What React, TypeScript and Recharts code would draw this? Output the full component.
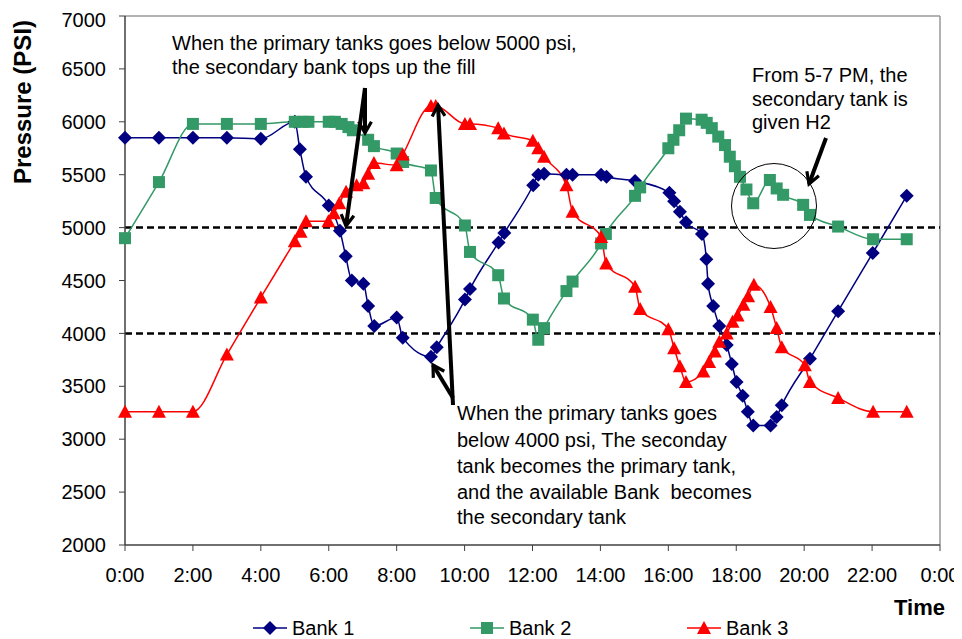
import React from "react";
import {
  LineChart,
  Line,
  XAxis,
  YAxis,
  ReferenceLine,
  Legend,
} from "recharts";

const FONT = '"Liberation Sans", Arial, sans-serif';

// hour of day (decimal) and tank pressure in psi, one pair of lists per bank
const bank1Hours = [0, 1, 2, 3, 4, 5, 5.15, 5.33, 6, 6.33, 6.5, 6.68, 7.02, 7.16, 7.34, 8, 8.18, 9.01, 9.18, 10.01, 10.16, 11, 11.17, 12.02, 12.17, 12.34, 13, 13.18, 14.02, 14.18, 15.02, 16.03, 16.17, 16.34, 16.52, 16.99, 17.12, 17.17, 17.32, 17.5, 17.72, 17.87, 18.01, 18.19, 18.34, 18.5, 19.01, 19.19, 19.34, 20.17, 21, 22.02, 23.02];
const bank1Psi = [5850, 5850, 5850, 5850, 5840, 6000, 5740, 5480, 5210, 4970, 4730, 4500, 4470, 4260, 4070, 4150, 3960, 3780, 3870, 4320, 4420, 4860, 4950, 5400, 5500, 5510, 5500, 5500, 5500, 5480, 5440, 5330, 5250, 5150, 5050, 4940, 4700, 4470, 4260, 4070, 3890, 3710, 3540, 3410, 3260, 3130, 3130, 3210, 3320, 3760, 4210, 4760, 5300];

const bank2Hours = [0, 1, 2, 3, 4, 5, 5.25, 5.4, 6, 6.18, 6.38, 6.58, 6.71, 7.16, 7.33, 8, 8.19, 9.01, 9.15, 10.01, 10.16, 10.99, 11.16, 12.01, 12.17, 12.34, 13, 13.18, 14.02, 14.16, 15.02, 15.17, 16, 16.15, 16.32, 16.52, 16.98, 17.13, 17.28, 17.47, 17.67, 17.81, 17.96, 18.11, 18.3, 18.5, 18.99, 19.19, 19.38, 19.97, 20.17, 21, 22.03, 23.02];
const bank2Psi = [4900, 5430, 5980, 5980, 5980, 6000, 6000, 6000, 6000, 6000, 5980, 5950, 5920, 5830, 5770, 5700, 5620, 5540, 5280, 5020, 4770, 4550, 4330, 4130, 3940, 4050, 4400, 4490, 4850, 4940, 5300, 5380, 5750, 5830, 5920, 6030, 6020, 5990, 5940, 5860, 5780, 5670, 5580, 5480, 5360, 5230, 5450, 5370, 5310, 5215, 5120, 5010, 4890, 4890];

const bank3Hours = [0, 1, 2, 3, 4, 5, 5.17, 5.33, 5.99, 6.15, 6.31, 6.51, 6.82, 7.02, 7.16, 7.33, 8, 8.18, 9.01, 9.15, 10.01, 10.16, 10.99, 11.16, 12.01, 12.17, 12.34, 13, 13.18, 14.02, 14.17, 15.02, 15.17, 16, 16.17, 16.34, 16.52, 17.03, 17.2, 17.37, 17.5, 17.72, 17.89, 18.04, 18.21, 18.35, 18.52, 19.01, 19.19, 19.34, 20.02, 20.17, 21, 22.03, 23.02];
const bank3Psi = [3260, 3260, 3260, 3800, 4340, 4870, 4960, 5060, 5060, 5135, 5230, 5340, 5400, 5420, 5510, 5610, 5590, 5690, 6150, 6150, 5980, 5980, 5940, 5890, 5820, 5750, 5670, 5400, 5150, 4910, 4660, 4440, 4230, 4040, 3860, 3690, 3540, 3640, 3730, 3830, 3920, 4000, 4110, 4170, 4270, 4350, 4460, 4250, 4050, 3870, 3700, 3540, 3390, 3260, 3260];

const hourTicks = [0, 2, 4, 6, 8, 10, 12, 14, 16, 18, 20, 22, 24];
const psiTicks = [2000, 2500, 3000, 3500, 4000, 4500, 5000, 5500, 6000, 6500, 7000];
const thresholds = [5000, 4000];

const toRows = (hours: number[], psi: number[]) =>
  hours.map((h, i) => ({ hour: h, psi: psi[i] }));

const banks = [
  { name: "Bank 1", color: "#000080", shape: "diamond", rows: toRows(bank1Hours, bank1Psi) },
  { name: "Bank 2", color: "#339966", shape: "square", rows: toRows(bank2Hours, bank2Psi) },
  { name: "Bank 3", color: "#FF0000", shape: "triangle", rows: toRows(bank3Hours, bank3Psi) },
];

const Marker = ({ cx, cy, shape, color }) => {
  if (shape === "diamond") {
    return <polygon points={`${cx},${cy - 7} ${cx + 7},${cy} ${cx},${cy + 7} ${cx - 7},${cy}`} fill={color} />;
  }
  if (shape === "square") {
    return <rect x={cx - 6} y={cy - 6} width={12} height={12} fill={color} />;
  }
  return <polygon points={`${cx},${cy - 7} ${cx + 7},${cy + 6} ${cx - 7},${cy + 6}`} fill={color} />;
};

const makeDot = (shape: string, color: string) => (props) => {
  const { cx, cy, index } = props;
  if (cx == null || cy == null) return <g key={`e-${index}`} />;
  return (
    <g key={`${shape}-${index}`}>
      <Marker cx={cx} cy={cy} shape={shape} color={color} />
    </g>
  );
};

const BankLegend = () => (
  <div style={{ display: "flex", fontFamily: FONT, fontSize: 20, color: "#000" }}>
    {banks.map((b) => (
      <div key={b.name} style={{ width: 217, display: "flex", alignItems: "center", height: 24 }}>
        <svg width={36} height={24}>
          <line x1={0} y1={12} x2={34} y2={12} stroke={b.color} strokeWidth={1.5} />
          <Marker cx={17} cy={12} shape={b.shape} color={b.color} />
        </svg>
        <span style={{ marginLeft: 3 }}>{b.name}</span>
      </div>
    ))}
  </div>
);

const Arrow = ({ x1, y1, x2, y2 }) => (
  <line x1={x1} y1={y1} x2={x2} y2={y2} stroke="#000" strokeWidth={4} markerEnd="url(#openHead)" />
);

const Notes = () => (
  <svg
    width={954}
    height={631}
    style={{ position: "absolute", left: 0, top: 0, pointerEvents: "none" }}
    fontFamily={FONT}
  >
    <defs>
      <marker id="openHead" viewBox="0 0 10 10" refX="8" refY="5" markerWidth="4" markerHeight="4" orient="auto-start-reverse">
        <path d="M1,1 L8,5 L1,9" fill="none" stroke="#000" strokeWidth={2} />
      </marker>
    </defs>

    <text
      x={23}
      y={94}
      transform="rotate(-90, 23, 94)"
      textAnchor="middle"
      fontSize={24}
      fontWeight="bold"
    >
      Pressure (PSI)
    </text>
    <text x={937} y={607} textAnchor="end" fontSize={22} fontWeight="bold">
      Time
    </text>

    <text fontSize={20}>
      <tspan x={164} y={42}>When the primary tanks goes below 5000 psi,</tspan>
      <tspan x={164} y={66}>the secondary bank tops up the fill</tspan>
    </text>
    <Arrow x1={357} y1={80} x2={357} y2={125} />
    <Arrow x1={357} y1={80} x2={338} y2={218} />

    <text fontSize={20} style={{ whiteSpace: "pre" }}>
      <tspan x={449} y={412}>When the primary tanks goes</tspan>
      <tspan x={449} y={439}>below 4000 psi, The seconday</tspan>
      <tspan x={449} y={465}>tank becomes the primary tank,</tspan>
      <tspan x={449} y={491}>{"and the available Bank  becomes"}</tspan>
      <tspan x={449} y={516}>the secondary tank</tspan>
    </text>
    <Arrow x1={445} y1={397} x2={430} y2={97} />
    <Arrow x1={445} y1={390} x2={425} y2={357} />

    <text fontSize={20}>
      <tspan x={744} y={74}>From 5-7 PM, the</tspan>
      <tspan x={744} y={98}>secondary tank is</tspan>
      <tspan x={744} y={121}>given H2</tspan>
    </text>
    <circle cx={766} cy={198} r={42.5} fill="none" stroke="#000" strokeWidth={1} />
    <Arrow x1={818} y1={130} x2={801} y2={176} />
  </svg>
);

export default function App() {
  const tickStyle = { fill: "#000", fontSize: 20, fontFamily: FONT };
  return (
    <div style={{ position: "relative", width: 954, height: 631 }}>
      <LineChart
        width={954}
        height={631}
        margin={{ top: 8, right: 22, bottom: 54, left: 0 }}
      >
        <XAxis
          type="number"
          dataKey="hour"
          domain={[0, 24]}
          ticks={hourTicks}
          allowDecimals
          tickFormatter={(h) => `${h % 24}:00`}
          tick={tickStyle}
          tickSize={6}
          tickMargin={17}
          height={40}
          axisLine={{ stroke: "#404040", strokeWidth: 1.5 }}
          tickLine={{ stroke: "#404040" }}
        />
        <YAxis
          type="number"
          domain={[2000, 7000]}
          ticks={psiTicks}
          tick={tickStyle}
          tickSize={6}
          tickMargin={13}
          width={117}
          axisLine={{ stroke: "#404040", strokeWidth: 1.5 }}
          tickLine={{ stroke: "#404040" }}
        />
        <ReferenceLine y={7000} stroke="#999" strokeWidth={1.5} />
        <ReferenceLine x={24} stroke="#999" strokeWidth={1.5} />
        {thresholds.map((p) => (
          <ReferenceLine key={p} y={p} stroke="#000" strokeWidth={2.5} strokeDasharray="7 4" />
        ))}
        {banks.map((b) => (
          <Line
            key={b.name}
            data={b.rows}
            dataKey="psi"
            name={b.name}
            type="monotone"
            stroke={b.color}
            strokeWidth={1.5}
            dot={makeDot(b.shape, b.color)}
            activeDot={false}
            isAnimationActive={false}
          />
        ))}
        <Legend
          layout="horizontal"
          verticalAlign="middle"
          align="center"
          content={<BankLegend />}
          wrapperStyle={{ left: 245, top: 608, width: 660, height: 24 }}
        />
      </LineChart>
      <Notes />
    </div>
  );
}
